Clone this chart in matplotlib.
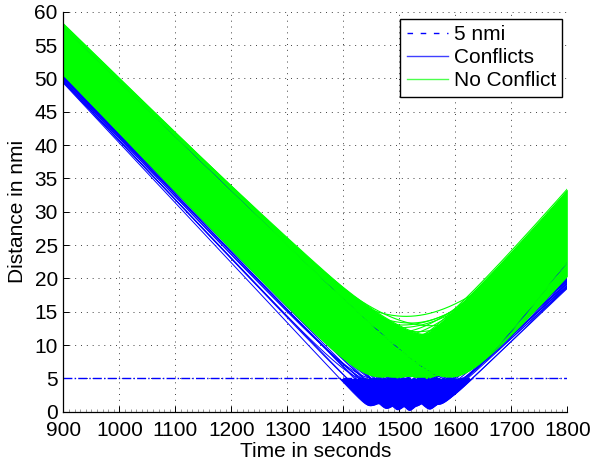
import numpy as np
import matplotlib
matplotlib.use("Agg")
import matplotlib.pyplot as plt
from matplotlib.ticker import MultipleLocator

# Each aircraft pair: time of closest approach (s), miss distance (nmi),
# separation at t=900 s and at t=1800 s (nmi).

# ---- pairs that lose separation (blue) -----------------------------------
conf_tcpa = [1448, 1456, 1462, 1470, 1452, 1477, 1484, 1466, 1491, 1497,
             1474, 1503, 1488, 1509, 1494, 1515, 1481, 1521, 1500, 1527,
             1506, 1533, 1512, 1539, 1518, 1545, 1524, 1551, 1530, 1557,
             1536, 1563, 1542, 1569, 1548, 1460, 1554, 1486, 1560, 1572]
conf_dmin = [0.9, 2.4, 1.2, 3.6, 4.5, 0.5, 2.9, 4.1, 1.7, 0.3,
             2.2, 3.9, 4.8, 1.0, 3.2, 0.6, 1.9, 4.4, 2.6, 0.8,
             3.4, 1.5, 4.7, 2.0, 0.2, 3.0, 4.2, 1.3, 2.8, 0.7,
             4.0, 1.8, 3.5, 1.1, 2.3, 4.9, 0.4, 3.7, 2.5, 1.4]
conf_start = [49.3, 49.6, 49.4, 50.0, 49.5, 49.8, 50.2, 49.7, 50.0, 50.4,
              50.1, 50.3, 50.3, 50.6, 50.0, 50.4, 50.1, 50.8, 50.2, 50.6,
              50.5, 50.7, 50.6, 51.0, 50.3, 51.1, 50.8, 51.0, 50.9, 51.3,
              50.7, 51.2, 51.1, 51.5, 51.0, 49.8, 51.2, 50.2, 51.4, 51.3]
conf_end = [21.6, 21.2, 21.7, 20.9, 21.4, 21.1, 20.5, 21.0, 20.9, 20.2,
            21.3, 20.6, 20.4, 19.9, 20.8, 20.3, 20.6, 19.6, 20.1, 19.9,
            20.0, 19.7, 19.8, 19.2, 20.2, 19.4, 19.5, 18.9, 19.8, 19.1,
            19.2, 18.8, 19.6, 18.5, 18.9, 21.8, 19.3, 20.5, 18.6, 18.7]

# one conflict track running along the upper green edge
late_tcpa = [1598]
late_dmin = [4.8]
late_start = [57.6]
late_end = [22.4]

# ---- pairs that keep separation (green) ----------------------------------
free_tcpa = [1468, 1472, 1475, 1470, 1478, 1482, 1474, 1486, 1480, 1489, 1477, 1484,
             1492, 1496, 1490, 1499, 1503, 1494, 1507, 1500, 1511, 1497, 1505, 1514,
             1518, 1522, 1516, 1512, 1530, 1520, 1534, 1524, 1538, 1528, 1542, 1532,
             1546, 1550, 1548, 1554, 1558, 1552, 1562, 1556, 1566, 1560, 1570, 1564,
             1576, 1580, 1584, 1578, 1588, 1592, 1582, 1596, 1586, 1600, 1590, 1604,
             1471, 1505, 1490, 1528, 1537, 1544, 1513, 1487, 1559, 1574, 1521, 1541]
free_dmin = [5.2, 6.8, 5.6, 8.1, 6.2, 9.4, 7.3, 5.4, 10.2, 6.6, 5.9, 7.8,
             8.6, 5.1, 11.2, 6.4, 9.0, 7.1, 5.7, 12.6, 8.3, 10.6, 6.0, 7.6,
             6.9, 9.8, 5.3, 14.3, 7.7, 13.3, 6.1, 8.9, 10.9, 5.5, 8.0, 12.0,
             9.3, 6.3, 11.6, 7.4, 5.8, 10.0, 8.5, 12.9, 6.7, 9.6, 7.0, 5.4,
             8.2, 6.5, 10.4, 5.6, 7.9, 9.1, 11.0, 6.2, 8.8, 7.5, 5.2, 8.4,
             9.0, 13.0, 11.8, 6.3, 9.5, 5.0, 7.2, 8.0, 11.3, 9.9, 5.8, 10.5]
free_start = [50.6, 51.4, 50.5, 51.9, 50.8, 52.3, 51.0, 50.7, 52.6, 51.2, 51.7, 52.0,
              52.4, 51.3, 53.0, 52.7, 53.5, 51.1, 52.0, 54.1, 53.6, 52.9, 51.8, 53.2,
              53.9, 54.6, 52.5, 55.0, 54.4, 54.8, 53.0, 55.3, 54.0, 52.8, 55.6, 55.5,
              55.4, 54.2, 56.0, 55.9, 54.6, 56.3, 56.1, 56.6, 55.0, 57.0, 56.7, 54.9,
              57.2, 56.0, 57.6, 55.8, 57.9, 58.1, 57.4, 57.0, 56.5, 58.2, 56.3, 57.8,
              50.9, 54.5, 53.2, 53.4, 54.9, 53.6, 52.2, 52.1, 56.4, 57.5, 52.9, 55.2]
free_end = [33.1, 31.6, 32.4, 30.9, 32.9, 30.2, 31.8, 32.6, 29.8, 31.0, 32.2, 30.5,
            31.8, 29.6, 30.4, 28.9, 31.2, 30.0, 28.4, 27.5, 30.3, 29.2, 30.8, 27.6,
            29.5, 27.2, 28.0, 28.6, 26.4, 29.4, 27.9, 26.0, 28.1, 26.9, 27.3, 26.3,
            26.6, 24.6, 26.8, 25.5, 23.6, 25.9, 24.8, 26.2, 23.0, 25.0, 23.9, 22.7,
            23.6, 21.8, 23.0, 22.0, 22.4, 21.0, 23.4, 20.4, 21.2, 20.8, 20.3, 21.5,
            33.4, 28.2, 30.6, 27.8, 27.0, 25.8, 29.0, 31.4, 24.2, 22.9, 28.5, 26.1]

sep_min = 5.0
core_max = 11.0      # green tracks below this miss distance form the solid band
t_start, t_end = 900, 1800

BLUE = (0, 0, 1)
GREEN = (0, 1, 0)


def track(tcpa, dmin, d0, d1, t):
    # straight-line relative motion, closing and opening rates from the end points
    v_in = np.sqrt(d0**2 - dmin**2) / (tcpa - t_start)
    v_out = np.sqrt(d1**2 - dmin**2) / (t_end - tcpa)
    v = np.where(t < tcpa, v_in, v_out)
    return np.sqrt(dmin**2 + (v * (t - tcpa))**2)


t = np.linspace(t_start, t_end, 901)
conf = np.array([track(*p, t) for p in zip(conf_tcpa, conf_dmin, conf_start, conf_end)])
late = np.array([track(*p, t) for p in zip(late_tcpa, late_dmin, late_start, late_end)])
free = np.array([track(*p, t) for p in zip(free_tcpa, free_dmin, free_start, free_end)])
core = free[np.array(free_dmin) <= core_max]

plt.rcParams['font.family'] = ['Liberation Sans', 'DejaVu Sans']
plt.rcParams['font.size'] = 15

fig = plt.figure(figsize=(5.94, 4.63), dpi=100)
ax = fig.add_axes([0.1066, 0.1108, 0.8485, 0.8640])

# conflicts underneath; the many overlapping runs below 5 nmi read as a solid patch
conf_lo = conf.min(axis=0)
ax.fill_between(t, conf_lo, sep_min, where=conf_lo < sep_min, color=BLUE,
                lw=0, zorder=2)
for y in conf:
    ax.plot(t, y, color=BLUE, lw=0.7, zorder=2)

ax.fill_between(t, core.min(axis=0), core.max(axis=0), color=GREEN, lw=0, zorder=3)
for y in late:
    ax.plot(t, y, color=BLUE, lw=0.5, zorder=3)
for y in free:
    ax.plot(t, y, color=GREEN, lw=0.8, zorder=3)

ax.axhline(sep_min, color=BLUE, ls='-.', lw=1.0, zorder=5)

h_sep, = ax.plot([], [], color=BLUE, ls=(0, (4, 5.5)), lw=1.0, label='5 nmi')
h_conf, = ax.plot([], [], color=(0.25, 0.25, 1), lw=1.0, label='Conflicts')
h_free, = ax.plot([], [], color=(0.3, 1, 0.3), lw=1.0, label='No Conflict')

ax.set_xlim(t_start, t_end)
ax.set_ylim(0, 60)
ax.xaxis.set_major_locator(MultipleLocator(100))
ax.xaxis.set_minor_locator(MultipleLocator(10))
ax.yaxis.set_major_locator(MultipleLocator(5))
ax.grid(True, which='major', color='0.25', ls=(0, (1, 5)), lw=0.7, zorder=1)
ax.set_axisbelow(True)

for s in ('top', 'right'):
    ax.spines[s].set_visible(False)
for s in ('left', 'bottom'):
    ax.spines[s].set_linewidth(0.9)
    ax.spines[s].set_zorder(6)

ax.tick_params(which='major', direction='in', length=4, width=0.7, labelsize=15)
ax.tick_params(axis='x', which='major', pad=7)
ax.tick_params(axis='y', which='major', pad=4)
ax.tick_params(axis='x', which='minor', direction='in', length=2, width=0.5,
               color='0.45')

ax.set_xlabel('Time in seconds', fontsize=15, labelpad=1)
ax.set_ylabel('Distance in nmi', fontsize=15, labelpad=5)

leg = ax.legend(handles=[h_sep, h_conf, h_free], loc='upper right',
                bbox_to_anchor=(0.9895, 0.982), borderaxespad=0,
                fancybox=False, framealpha=1, edgecolor='k',
                handlelength=2.0, handletextpad=0.25, labelspacing=0.2,
                borderpad=0.3, fontsize=15)
leg.get_frame().set_linewidth(1.0)
leg.set_zorder(10)

fig.savefig('out.png', dpi=100)
